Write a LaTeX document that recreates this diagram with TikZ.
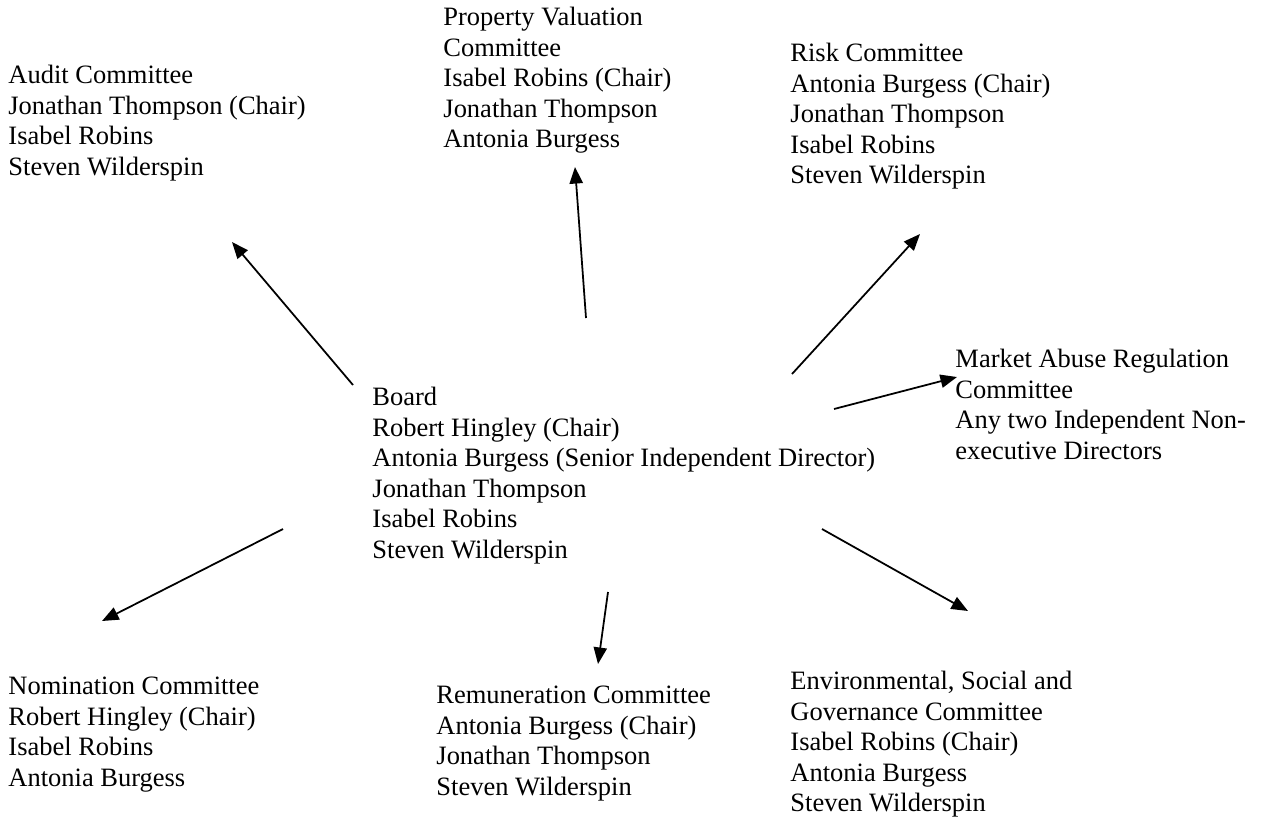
\documentclass[tikz,border=0pt]{standalone}
\usepackage{fontspec}
\setmainfont{Liberation Serif}
\usetikzlibrary{arrows.meta}
\tikzset{committee/.style={anchor=north west,align=left,inner sep=0pt,
    font=\fontsize{12pt}{13.8pt}\selectfont},
  link/.style={line width=0.8pt,-{Triangle[length=7.5pt,width=6pt]}}}

\begin{document}
\begin{tikzpicture}[x=0.453pt,y=-0.453pt]
\useasboundingbox (0,0) rectangle (1275,822);
% board in the middle
\node[committee] (board) at (372,387) {Board\\Robert Hingley (Chair)\\Antonia Burgess (Senior Independent Director)\\Jonathan Thompson\\Isabel Robins\\Steven Wilderspin};
% committees round it
\node[committee] (audit) at (8,65) {Audit Committee\\Jonathan Thompson (Chair)\\Isabel Robins\\Steven Wilderspin};
\node[committee] (property) at (443,7) {Property Valuation\\Committee\\Isabel Robins (Chair)\\Jonathan Thompson\\Antonia Burgess};
\node[committee] (risk) at (790,43) {Risk Committee\\Antonia Burgess (Chair)\\Jonathan Thompson\\Isabel Robins\\Steven Wilderspin};
\node[committee] (mar) at (955,349) {Market Abuse Regulation\\Committee\\Any two Independent Non-\\executive Directors};
\node[committee] (nomination) at (8,677) {Nomination Committee\\Robert Hingley (Chair)\\Isabel Robins\\Antonia Burgess};
\node[committee] (remuneration) at (436,686) {Remuneration Committee\\Antonia Burgess (Chair)\\Jonathan Thompson\\Steven Wilderspin};
\node[committee] (esg) at (790,671) {Environmental, Social and\\Governance Committee\\Isabel Robins (Chair)\\Antonia Burgess\\Steven Wilderspin};
% arrow tails and heads
\coordinate (auditTail) at (353,385);   \coordinate (auditHead) at (232,242);
\coordinate (propTail) at (586,318);    \coordinate (propHead) at (575,167);
\coordinate (riskTail) at (792,374);    \coordinate (riskHead) at (920,234);
\coordinate (marTail) at (834,409);     \coordinate (marHead) at (957,377);
\coordinate (nomTail) at (283,529);     \coordinate (nomHead) at (102,621);
\coordinate (remTail) at (608,592);     \coordinate (remHead) at (598,664);
\coordinate (esgTail) at (822,529);     \coordinate (esgHead) at (968,611);
\draw[link] (auditTail) -- (auditHead);
\draw[link] (propTail) -- (propHead);
\draw[link] (riskTail) -- (riskHead);
\draw[link] (marTail) -- (marHead);
\draw[link] (nomTail) -- (nomHead);
\draw[link] (remTail) -- (remHead);
\draw[link] (esgTail) -- (esgHead);
\end{tikzpicture}
\end{document}
